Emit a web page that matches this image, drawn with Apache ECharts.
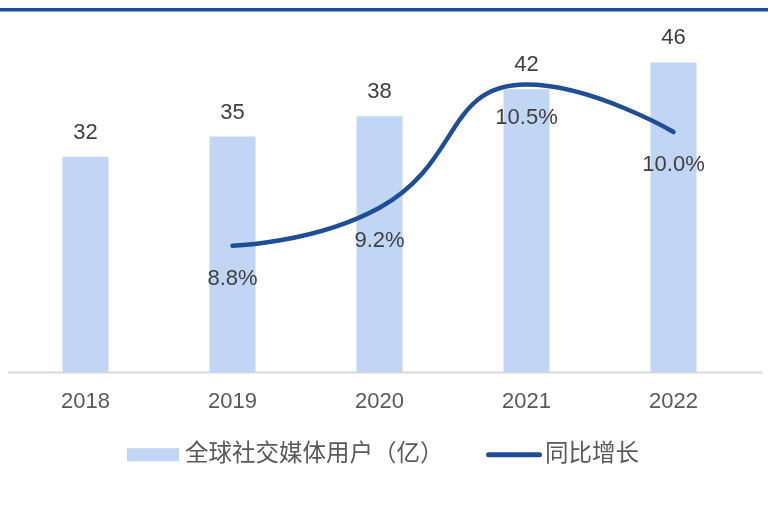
<!DOCTYPE html>
<html>
<head>
<meta charset="utf-8">
<script src="https://cdn.jsdelivr.net/npm/echarts@6/dist/echarts.min.js"></script>
<style>
  html, body { margin: 0; padding: 0; background: #fff; }
  #chart { width: 768px; height: 510px; }
</style>
</head>
<body>
<div id="chart"></div>
<script>
// Global social media users (hundred millions) and year-over-year growth
const years = ['2018', '2019', '2020', '2021', '2022'];
const users = [32, 35, 38, 42, 46];
const growth = [null, 8.8, 9.2, 10.5, 10.0];
const usersName = '全球社交媒体用户（亿）';
const growthName = '同比增长';

const chart = echarts.init(document.getElementById('chart'));

const numFont = '"Liberation Sans", Arial, sans-serif';
const cjkFont = '"Liberation Sans", "Noto Sans CJK SC", sans-serif';
const barColor = '#C0D6F4';
const lineColor = '#1F4E96';

// capsule-shaped legend mark for the growth line (round line caps)
const capsule = 'path://M2.5,0 L53.5,0 A2.5,2.5 0 0 1 53.5,5 L2.5,5 A2.5,2.5 0 0 1 2.5,0 Z';

chart.setOption({
  animation: false,
  backgroundColor: '#ffffff',
  grid: { left: 12, width: 735, top: 35.5, height: 336.5 },
  xAxis: {
    type: 'category',
    data: years,
    axisLine: { show: false },
    axisTick: { show: false },
    axisLabel: { color: '#595959', fontSize: 22, fontFamily: numFont, margin: 19 }
  },
  yAxis: [
    { type: 'value', min: 0, max: 50, show: false },
    { type: 'value', min: 7.467, max: 11.018, show: false }
  ],
  legend: [
    {
      left: 122,
      top: 438,
      itemWidth: 52,
      itemHeight: 13,
      itemGap: 0,
      textStyle: { color: '#595959', fontSize: 23.5, fontFamily: cjkFont, padding: [0, 0, 0, 1] },
      data: [{ name: usersName, icon: 'rect' }]
    },
    {
      left: 481,
      top: 438,
      itemWidth: 56,
      itemHeight: 5,
      itemGap: 0,
      textStyle: { color: '#595959', fontSize: 23.5, fontFamily: cjkFont, padding: [0, 0, 0, -2] },
      data: [{ name: growthName, icon: capsule, itemStyle: { color: lineColor } }]
    }
  ],
  graphic: [
    { type: 'rect', shape: { x: 0, y: 8, width: 768, height: 3.5 }, style: { fill: lineColor } },
    { type: 'line', shape: { x1: 8, y1: 372.5, x2: 762, y2: 372.5 }, style: { stroke: '#D9D9D9', lineWidth: 2 } }
  ],
  series: [
    {
      name: usersName,
      type: 'bar',
      data: users,
      barWidth: 46,
      itemStyle: { color: barColor },
      label: {
        show: true,
        position: 'top',
        distance: 13,
        color: '#404040',
        fontSize: 22,
        fontFamily: numFont
      }
    },
    {
      name: growthName,
      type: 'line',
      yAxisIndex: 1,
      data: growth,
      smooth: 0.5,
      symbol: 'circle',
      symbolSize: 0,
      lineStyle: { color: lineColor, width: 4.5, cap: 'round' },
      itemStyle: { color: lineColor },
      label: {
        show: true,
        position: 'bottom',
        distance: 22,
        color: '#404040',
        fontSize: 22,
        fontFamily: numFont,
        formatter: p => p.value.toFixed(1) + '%'
      }
    }
  ]
});
</script>
</body>
</html>
